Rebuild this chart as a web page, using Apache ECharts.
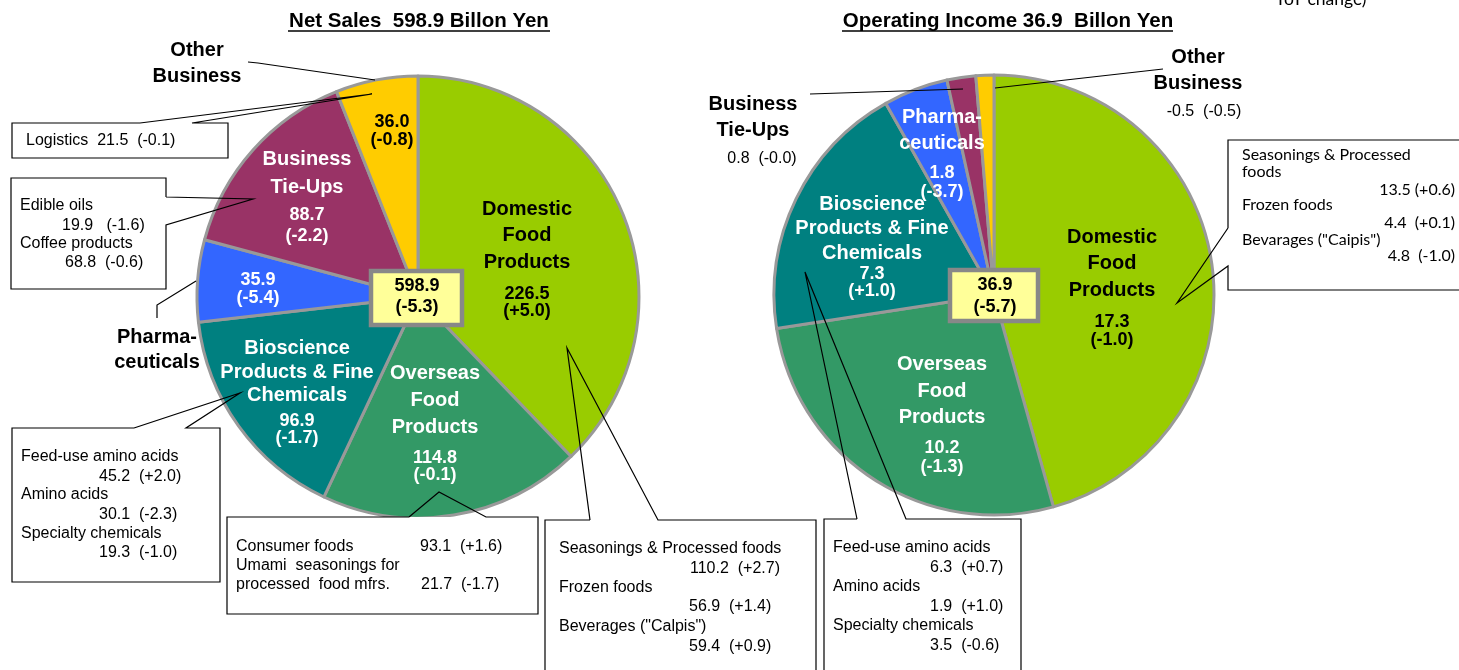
<!DOCTYPE html>
<html>
<head>
<meta charset="utf-8">
<title>Net Sales / Operating Income by segment</title>
<script src="https://cdn.jsdelivr.net/npm/echarts@6/dist/echarts.min.js"></script>
<style>
  html, body { margin: 0; padding: 0; background: #fff; }
  #chart { width: 1459px; height: 670px; }
</style>
</head>
<body>
<div id="chart"></div>
<script>
// segments, clockwise from 12 o'clock
const segments = ['Domestic Food Products', 'Overseas Food Products', 'Bioscience Products & Fine Chemicals',
  'Pharmaceuticals', 'Business Tie-Ups', 'Other Business'];
const segmentLines = [['Domestic', 'Food', 'Products'], ['Overseas', 'Food', 'Products'],
  ['Bioscience', 'Products & Fine', 'Chemicals'], ['Pharma-', 'ceuticals'], ['Business', 'Tie-Ups'], ['Other', 'Business']];
const segmentColors = ['#99cc00', '#339966', '#008080', '#3366ff', '#993366', '#ffcc00'];

const salesValues = [226.5, 114.8, 96.9, 35.9, 88.7, 36.0];
const salesChanges = ['+5.0', '-0.1', '-1.7', '-5.4', '-2.2', '-0.8'];
const salesTotal = [598.9, '-5.3'];

const incomeValues = [17.3, 10.2, 7.3, 1.8, 0.8, -0.5];
const incomeChanges = ['-1.0', '-1.3', '+1.0', '-3.7', '-0.0', '-0.5'];
const incomeTotal = [36.9, '-5.7'];

// breakdowns shown in the callout boxes: [name, value, change]
const salesOther = [['Logistics', 21.5, '-0.1']];
const salesTieUps = [['Edible oils', 19.9, '-1.6'], ['Coffee products', 68.8, '-0.6']];
const salesBioscience = [['Feed-use amino acids', 45.2, '+2.0'], ['Amino acids', 30.1, '-2.3'], ['Specialty chemicals', 19.3, '-1.0']];
const salesOverseas = [['Consumer foods', 93.1, '+1.6'], ['Umami  seasonings for\nprocessed  food mfrs.', 21.7, '-1.7']];
const salesDomestic = [['Seasonings & Processed foods', 110.2, '+2.7'], ['Frozen foods', 56.9, '+1.4'], ['Beverages ("Calpis")', 59.4, '+0.9']];
const incomeDomestic = [['Seasonings & Processed\nfoods', 13.5, '+0.6'], ['Frozen foods', 4.4, '+0.1'], ['Bevarages ("Caipis")', 4.8, '-1.0']];
const incomeBioscience = [['Feed-use amino acids', 6.3, '+0.7'], ['Amino acids', 1.9, '+1.0'], ['Specialty chemicals', 3.5, '-0.6']];

const FONT = '"Liberation Sans", Arial, sans-serif';

// where each slice's inside label sits (block centre) and its line spacing
const salesLabelPos = [
  { x: 527, y: 258, names: true, nameLH: 26.5, gap: 10, valLH: 17.5, color: '#000' },
  { x: 435, y: 422, names: true, nameLH: 27, gap: 7.75, valLH: 17.5, color: '#fff' },
  { x: 297, y: 392, names: true, nameLH: 23.5, gap: 4.5, valLH: 17.5, color: '#fff' },
  { x: 258, y: 289, names: false, valLH: 17.5, color: '#fff' },
  { x: 307, y: 196, names: true, nameLH: 28, gap: 2.5, valLH: 21, color: '#fff' },
  { x: 392, y: 131, names: false, valLH: 18, color: '#000' }
];
const incomeLabelPos = [
  { x: 1112, y: 286.5, names: true, nameLH: 26.5, gap: 10, valLH: 18, color: '#000' },
  { x: 942, y: 414, names: true, nameLH: 26.5, gap: 7.25, valLH: 19, color: '#fff' },
  { x: 872, y: 245.5, names: true, nameLH: 24.5, gap: 0, valLH: 17, color: '#fff' },
  { x: 942, y: 153, names: true, nameLH: 26, gap: 7.5, valLH: 19, color: '#fff' },
  null,
  null
];

function sliceLabel(i, value, change, cfg) {
  if (!cfg) return { show: false };
  let parts = [];
  if (cfg.names) {
    segmentLines[i].forEach(function (l) { parts.push('{n|' + l + '}'); });
    if (cfg.gap) parts.push('{g| }');
  }
  parts.push('{v|' + Math.abs(value).toFixed(1) + '}');
  parts.push('{v|(' + change + ')}');
  return {
    show: true,
    position: 'inside',
    formatter: parts.join('\n'),
    color: cfg.color,
    textBorderWidth: 0,
    rich: {
      n: { fontFamily: FONT, fontSize: 20, fontWeight: 'bold', color: cfg.color, lineHeight: cfg.nameLH, textBorderWidth: 0 },
      g: { fontSize: 1, lineHeight: cfg.gap || 1 },
      v: { fontFamily: FONT, fontSize: 18, fontWeight: 'bold', color: cfg.color, lineHeight: cfg.valLH, textBorderWidth: 0 }
    }
  };
}

function pieSeries(center, radius, values, changes, labelPos) {
  return {
    type: 'pie',
    center: center,
    radius: radius,
    startAngle: 90,
    clockwise: true,
    silent: true,
    avoidLabelOverlap: false,
    itemStyle: { borderColor: '#999999', borderWidth: 3 },
    labelLine: { show: false },
    data: segments.map(function (name, i) {
      return {
        name: name,
        value: Math.abs(values[i]),
        itemStyle: { color: segmentColors[i] },
        label: sliceLabel(i, values[i], changes[i], labelPos[i])
      };
    }),
    labelLayout: function (params) {
      const c = labelPos[params.dataIndex];
      if (!c) return {};
      return { x: c.x, y: c.y, align: 'center', verticalAlign: 'middle' };
    }
  };
}

// --- graphic helpers (titles, callouts, leader lines)
function txt(x, y, text, font, align, fill) {
  return {
    type: 'text', x: x, y: y, z: 100,
    style: { text: text, font: font, fill: fill || '#000', align: align || 'left', verticalAlign: 'middle' }
  };
}
function line(points, lw) {
  return { type: 'polyline', z: 100, shape: { points: points }, style: { stroke: '#000', lineWidth: lw || 1.2, fill: null } };
}
function box(x, y, w, h) {
  return { type: 'rect', z: 99, shape: { x: x, y: y, width: w, height: h }, style: { fill: '#fff', stroke: null } };
}
function fmt(row, sep) { return row[1].toFixed(1) + (sep || '  ') + '(' + row[2] + ')'; }

const body = '16px ' + FONT;
const bold20 = 'bold 20px ' + FONT;
let g = [];

// titles (underlined)
g.push(txt(419, 21, 'Net Sales  ' + salesTotal[0] + ' Billon Yen', 'bold 20.5px ' + FONT, 'center'));
g.push(line([[288, 31], [550, 31]], 1.5));
g.push(txt(1008, 21, 'Operating Income ' + incomeTotal[0] + '  Billon Yen', 'bold 20.5px ' + FONT, 'center'));
g.push(line([[842, 31], [1173, 31]], 1.5));
g.push(txt(1275, -1, 'YoY change)', '17.5px Lato, ' + FONT));

// centre totals
g.push({ type: 'rect', z: 100, shape: { x: 371, y: 271, width: 91, height: 54 }, style: { fill: '#ffff99', stroke: '#888888', lineWidth: 4.5 } });
g.push(txt(417, 286, salesTotal[0].toFixed(1), 'bold 18px ' + FONT, 'center'));
g.push(txt(417, 307, '(' + salesTotal[1] + ')', 'bold 18px ' + FONT, 'center'));
g.push({ type: 'rect', z: 100, shape: { x: 950, y: 270, width: 88, height: 51 }, style: { fill: '#ffff99', stroke: '#888888', lineWidth: 4.5 } });
g.push(txt(995, 285, incomeTotal[0].toFixed(1), 'bold 18px ' + FONT, 'center'));
g.push(txt(995, 307, '(' + incomeTotal[1] + ')', 'bold 18px ' + FONT, 'center'));

// ----- Net Sales pie callouts
// Other Business
g.push(txt(197, 50, 'Other', bold20, 'center'));
g.push(txt(197, 76, 'Business', bold20, 'center'));
g.push(line([[248, 62], [258, 63], [375, 80]]));
g.push(box(12, 123, 216, 35));
g.push(line([[140, 123], [372, 94], [192, 123], [228, 123], [228, 158], [12, 158], [12, 123], [140, 123]]));
g.push(txt(26, 141, salesOther[0][0] + '  ' + fmt(salesOther[0]), body));

// Business Tie-Ups
g.push(box(11, 178, 155, 111));
g.push(line([[166, 197], [253, 199], [166, 225], [166, 289], [11, 289], [11, 178], [166, 178], [166, 197]]));
g.push(txt(20, 206, salesTieUps[0][0], body));
g.push(txt(62, 226, fmt(salesTieUps[0], '   '), body));
g.push(txt(20, 244, salesTieUps[1][0], body));
g.push(txt(65, 263, fmt(salesTieUps[1]), body));

// Pharmaceuticals
g.push(txt(157, 337, 'Pharma-', bold20, 'center'));
g.push(txt(157, 362, 'ceuticals', bold20, 'center'));
g.push(line([[157, 318], [157, 305], [196, 281]]));

// Bioscience
g.push(box(12, 428, 208, 154));
g.push(line([[134, 428], [240, 393], [186, 428], [220, 428], [220, 582], [12, 582], [12, 428], [134, 428]]));
[[457, 477], [495, 515], [534, 553]].forEach(function (ys, i) {
  g.push(txt(21, ys[0], salesBioscience[i][0], body));
  g.push(txt(99, ys[1], fmt(salesBioscience[i]), body));
});

// Overseas
g.push(box(227, 517, 311, 97));
g.push(line([[409, 517], [439, 492], [486, 517], [538, 517], [538, 614], [227, 614], [227, 517], [409, 517]]));
g.push(txt(236, 547, salesOverseas[0][0], body));
g.push(txt(420, 547, fmt(salesOverseas[0]), body));
g.push(txt(236, 566, salesOverseas[1][0].split('\n')[0], body));
g.push(txt(236, 585, salesOverseas[1][0].split('\n')[1], body));
g.push(txt(421, 585, fmt(salesOverseas[1]), body));

// Domestic
g.push(box(545, 520, 271, 160));
g.push(line([[590, 520], [567, 348], [658, 520], [816, 520], [816, 680], [545, 680], [545, 520], [590, 520]]));
[[549, 569, 690], [588, 607, 689], [627, 647, 689]].forEach(function (p, i) {
  g.push(txt(559, p[0], salesDomestic[i][0], body));
  g.push(txt(p[2], p[1], fmt(salesDomestic[i]), body));
});

// ----- Operating Income pie callouts
// Business Tie-Ups
g.push(txt(753, 104, 'Business', bold20, 'center'));
g.push(txt(753, 130, 'Tie-Ups', bold20, 'center'));
g.push(txt(762, 159, fmt([0, incomeValues[4], incomeChanges[4]]), body, 'center'));
g.push(line([[810, 94], [963, 89]]));

// Other Business
g.push(txt(1198, 57, 'Other', bold20, 'center'));
g.push(txt(1198, 83, 'Business', bold20, 'center'));
g.push(txt(1204, 112, fmt([0, incomeValues[5], incomeChanges[5]]), body, 'center'));
g.push(line([[995, 88], [1163, 69]]));

// Domestic
const lato = '16px Lato, ' + FONT;
g.push(box(1228, 140, 250, 150));
g.push(line([[1228, 228], [1177, 303], [1228, 266], [1228, 290], [1470, 290], [1470, 140], [1228, 140], [1228, 228]]));
g.push(txt(1242, 155, incomeDomestic[0][0].split('\n')[0], lato));
g.push(txt(1242, 172, incomeDomestic[0][0].split('\n')[1], lato));
g.push(txt(1455, 190, fmt(incomeDomestic[0], ' '), lato, 'right'));
g.push(txt(1242, 205, incomeDomestic[1][0], lato));
g.push(txt(1455, 223, fmt(incomeDomestic[1]), lato, 'right'));
g.push(txt(1242, 240, incomeDomestic[2][0], lato));
g.push(txt(1455, 256, fmt(incomeDomestic[2]), lato, 'right'));

// Bioscience
g.push(box(824, 519, 197, 161));
g.push(line([[857, 519], [805, 272], [906, 519], [1021, 519], [1021, 680], [824, 680], [824, 519], [857, 519]]));
[[548, 568], [587, 607], [626, 646]].forEach(function (ys, i) {
  g.push(txt(833, ys[0], incomeBioscience[i][0], body));
  g.push(txt(930, ys[1], fmt(incomeBioscience[i]), body));
});

const chart = echarts.init(document.getElementById('chart'));
chart.setOption({
  animation: false,
  backgroundColor: '#fff',
  series: [
    pieSeries([418, 297], 221, salesValues, salesChanges, salesLabelPos),
    pieSeries([994, 295], 220, incomeValues, incomeChanges, incomeLabelPos)
  ],
  graphic: { elements: g }
});
</script>
</body>
</html>
